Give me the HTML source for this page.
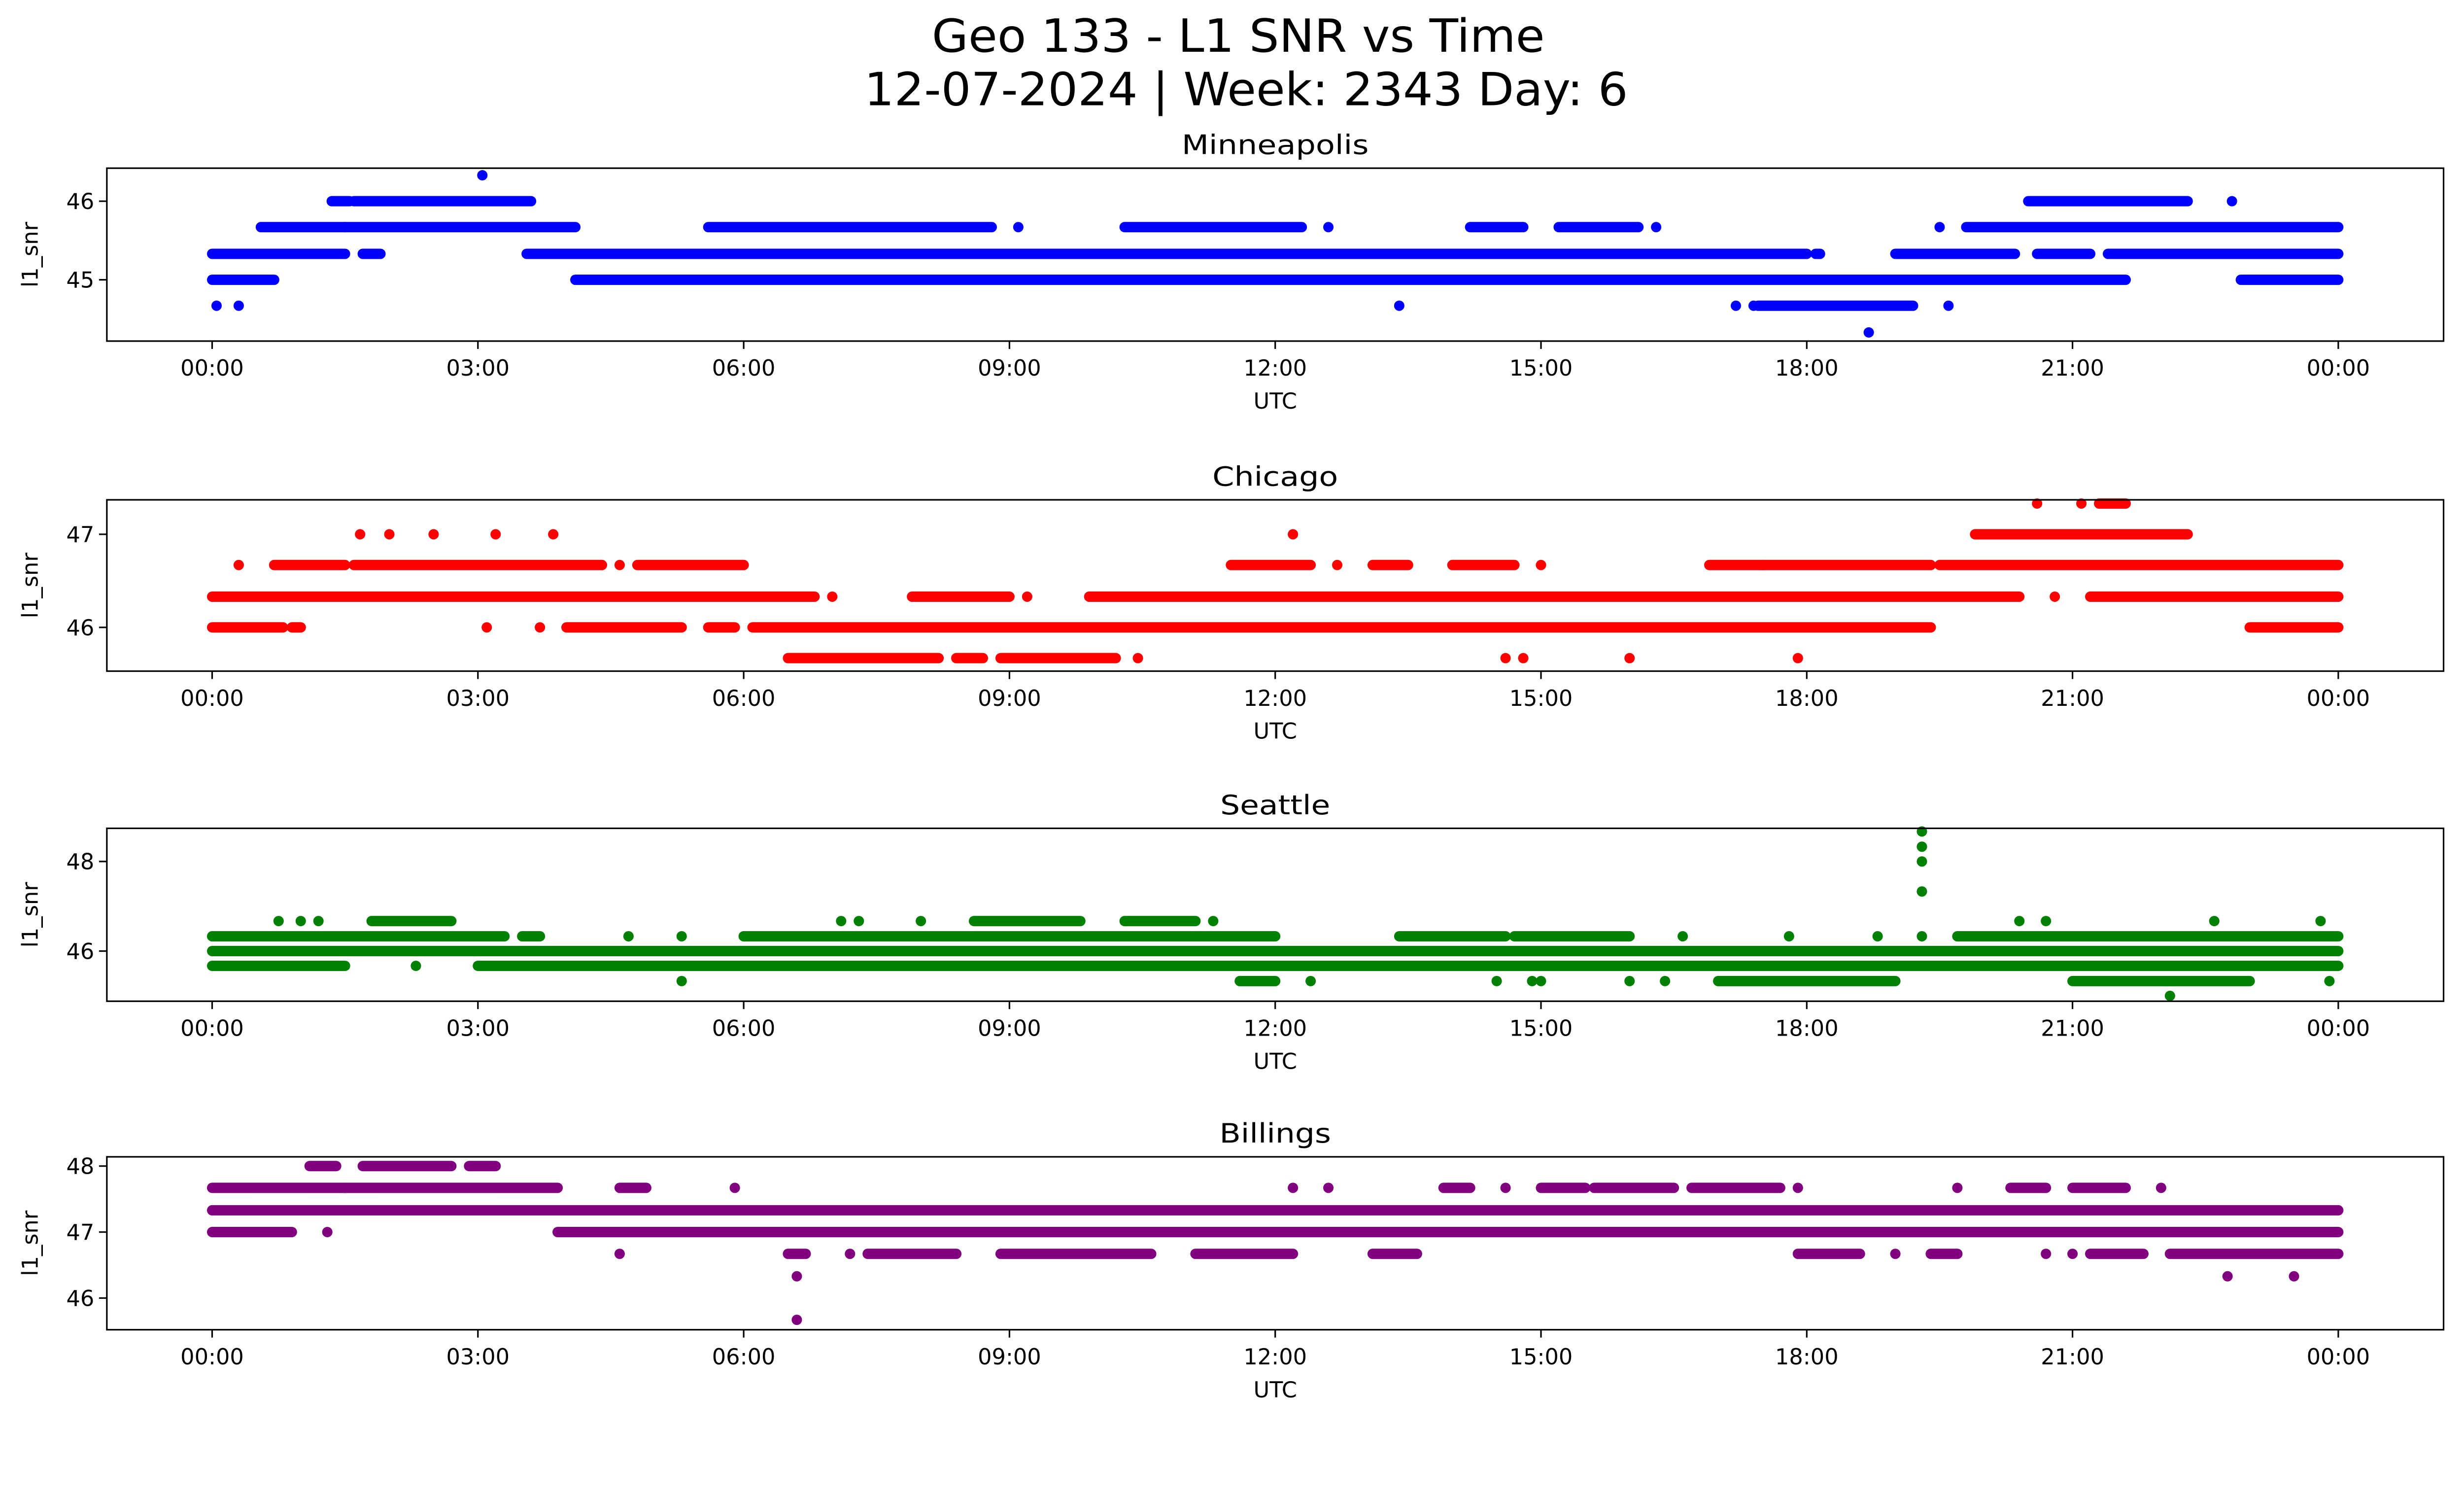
<!DOCTYPE html>
<html><head><meta charset="utf-8"><style>
html,body{margin:0;padding:0;background:#fff;overflow:hidden;width:100%;height:100%}
svg{display:block;position:fixed;left:0;top:0;width:100vw;height:100vh}
text{font-family:"DejaVu Sans","Liberation Sans",sans-serif;fill:#000}
</style></head><body>
<svg id="chart" xmlns="http://www.w3.org/2000/svg" viewBox="0 0 1568 910" preserveAspectRatio="xMinYMin meet">
<rect width="1568" height="910" fill="#fff"/>
<text x="788" y="33" font-size="29" text-anchor="middle" textLength="390" lengthAdjust="spacingAndGlyphs">Geo 133 - L1 SNR vs Time</text>
<text x="793" y="67" font-size="29" text-anchor="middle" textLength="486" lengthAdjust="spacingAndGlyphs">12-07-2024 | Week: 2343 Day: 6</text>
<g id="plots"></g>
</svg>
<script>
// Minneapolis
const minRunStart=[0,1.7,3.55,18.1,19.0,20.6,21.4,0,4.1,22.9,0.55,1.5,5.6,10.3,14.2,15.2,19.8,1.35,1.6,20.5];
const minRunEnd=[1.5,1.9,18.0,18.15,20.35,21.2,24,0.7,21.6,24,1.5,4.1,8.8,12.3,14.8,16.1,24,1.55,3.6,22.3];
const minRunVal=[45.33,45.33,45.33,45.33,45.33,45.33,45.33,45,45,45,45.67,45.67,45.67,45.67,45.67,45.67,45.67,46,46,46];
const minPtTime=[0.05,0.3,13.4,19.6,18.7,3.05,22.8,19.5,17.2,17.4,12.6,9.1,16.3];
const minPtVal=[44.67,44.67,44.67,44.67,44.33,46.33,46,45.67,44.67,44.67,45.67,45.67,45.67];
const minRun2Start=[17.45];const minRun2End=[19.2];const minRun2Val=[44.67];
// Chicago
const chiRunStart=[0,6.5,7.9,8.5,9.9,11.0,20.0,21.2,0,0.9,4.0,5.6,6.1,23.0,0.7,1.6,4.8,11.5,13.1,14.0,16.9,17.5,19.5,19.9,21.3,6.5,8.4,8.9];
const chiRunEnd=[6.6,6.8,8.5,9.0,20.3,19.9,20.4,24,0.8,1.0,5.3,5.9,19.4,24,1.5,4.4,6.0,12.4,13.5,14.7,17.5,19.4,24,22.3,21.6,8.2,8.7,10.2];
const chiRunVal=[46.33,46.33,46.33,46.33,46.33,46.33,46.33,46.33,46,46,46,46,46,46,46.67,46.67,46.67,46.67,46.67,46.67,46.67,46.67,46.67,47,47.33,45.67,45.67,45.67];
const chiPtTime=[0.3,4.6,12.7,15.0,1.67,2.0,2.5,3.2,3.85,12.2,20.6,21.1,3.1,3.7,10.45,14.6,14.8,16.0,17.9,20.8,7.0,9.2];
const chiPtVal=[46.67,46.67,46.67,46.67,47,47,47,47,47,47,47.33,47.33,46,46,45.67,45.67,45.67,45.67,45.67,46.33,46.33,46.33];
// Seattle
const seaRunStart=[0,1.6,3.5,6.0,13.4,14.7,19.7,0,0,3.0,11.6,17.0,21.0,1.8,8.6,10.3];
const seaRunEnd=[1.6,3.3,3.7,12.0,14.6,16.0,24,24,1.5,24,12.0,19.0,23.0,2.7,9.8,11.1];
const seaRunVal=[46.33,46.33,46.33,46.33,46.33,46.33,46.33,46,45.67,45.67,45.33,45.33,45.33,46.67,46.67,46.67];
const seaPtTime=[4.7,5.3,16.6,17.8,18.8,19.3,19.3,19.3,19.3,19.3,5.3,12.4,14.5,15.0,16.0,16.4,22.1,0.75,1.0,1.2,7.1,7.3,8.0,11.3,20.4,20.7,22.6,23.8,23.9,2.3,14.9];
const seaPtVal=[46.33,46.33,46.33,46.33,46.33,46.33,47.33,48,48.33,48.67,45.33,45.33,45.33,45.33,45.33,45.33,45,46.67,46.67,46.67,46.67,46.67,46.67,46.67,46.67,46.67,46.67,46.67,45.33,45.67,45.33];
// Billings
const bilRunStart=[0,0,3.9,0,1.5,4.6,13.9,15.0,15.6,16.7,20.3,21.0,1.1,1.7,2.9,6.5,7.4,8.9,11.1,13.1,17.9,19.4,21.2,22.1];
const bilRunEnd=[24,0.9,24,1.5,3.9,4.9,14.2,15.5,16.5,17.7,20.7,21.6,1.4,2.7,3.2,6.7,8.4,10.6,12.2,13.6,18.6,19.7,21.8,24];
const bilRunVal=[47.33,47,47,47.67,47.67,47.67,47.67,47.67,47.67,47.67,47.67,47.67,48,48,48,46.67,46.67,46.67,46.67,46.67,46.67,46.67,46.67,46.67];
const bilPtTime=[5.9,12.2,12.6,14.6,17.9,19.7,22.0,4.6,7.2,19.0,20.7,21.0,6.6,22.75,23.5,6.6,1.3];
const bilPtVal=[47.67,47.67,47.67,47.67,47.67,47.67,47.67,46.67,46.67,46.67,46.67,46.67,46.33,46.33,46.33,45.67,47];
// ticks
const xTickHours=[0,3,6,9,12,15,18,21,24];
const xTickLabels=["00:00","03:00","06:00","09:00","12:00","15:00","18:00","21:00","00:00"];

const panels=[
 {name:"Minneapolis",slug:"minneapolis",tw:119,top:107,bottom:217,yMin:44.22,yMax:46.42,ticks:[45,46],color:"#0000ff",
  runs:[[minRunStart,minRunEnd,minRunVal],[minRun2Start,minRun2End,minRun2Val]],pts:[minPtTime,minPtVal]},
 {name:"Chicago",slug:"chicago",tw:80,top:318,bottom:427,yMin:45.53,yMax:47.37,ticks:[46,47],color:"#ff0000",
  runs:[[chiRunStart,chiRunEnd,chiRunVal]],pts:[chiPtTime,chiPtVal]},
 {name:"Seattle",slug:"seattle",tw:70,top:527,bottom:637,yMin:44.88,yMax:48.74,ticks:[46,48],color:"#008000",
  runs:[[seaRunStart,seaRunEnd,seaRunVal]],pts:[seaPtTime,seaPtVal]},
 {name:"Billings",slug:"billings",tw:71,top:736,bottom:846,yMin:45.52,yMax:48.14,ticks:[46,47,48],color:"#800080",
  runs:[[bilRunStart,bilRunEnd,bilRunVal]],pts:[bilPtTime,bilPtVal]}
];
const NS="http://www.w3.org/2000/svg";
const L=68,R=1555,X0=135,X1=1488;
const xs=h=>X0+(X1-X0)*h/24;
const root=document.getElementById('plots');
function mk(tag,attrs,parent){const e=document.createElementNS(NS,tag);for(const k in attrs)e.setAttribute(k,attrs[k]);parent.appendChild(e);return e;}
panels.forEach(p=>{
 const ys=v=>p.bottom-(v-p.yMin)/(p.yMax-p.yMin)*(p.bottom-p.top);
 const g=mk('g',{},root);
 
 
 const t=mk('text',{x:(L+R)/2,y:p.top-9,'font-size':17,'text-anchor':'middle',textLength:p.tw,lengthAdjust:'spacingAndGlyphs'},g);
 t.textContent=p.name;
 
 
 const marks=mk('g',{fill:p.color,stroke:p.color},g);
 
 
 p.runs.forEach(([s,e,v])=>{
  for(let i=0;i<s.length;i++){
   const ln=mk('line',{x1:xs(s[i]),x2:xs(e[i]),y1:ys(v[i]),y2:ys(v[i]),'stroke-width':6.6,'stroke-linecap':'round'},marks);
   
   
  }
 });
 const [pt,pv]=p.pts;
 for(let i=0;i<pt.length;i++){
  const c=mk('circle',{cx:xs(pt[i]),cy:ys(pv[i]),r:3.3,stroke:'none'},marks);
  
  
 }
 const fr=mk('rect',{x:L,y:p.top,width:R-L,height:p.bottom-p.top,fill:'none',stroke:'#000','stroke-width':1},g);
 
 
 xTickHours.forEach((h,i)=>{
  mk('line',{x1:xs(h),x2:xs(h),y1:p.bottom,y2:p.bottom+5,stroke:'#000','stroke-width':1},g);
  const tl=mk('text',{x:xs(h),y:p.bottom+22,'font-size':14,'text-anchor':'middle'},g);
  tl.textContent=xTickLabels[i];
  
  
 });
 p.ticks.forEach(v=>{
  mk('line',{x1:L-5,x2:L,y1:ys(v),y2:ys(v),stroke:'#000','stroke-width':1},g);
  const tl=mk('text',{x:L-8,y:ys(v)+5,'font-size':14,'text-anchor':'end'},g);
  tl.textContent=String(v);
  
  
 });
 const xl=mk('text',{x:(L+R)/2,y:p.bottom+43,'font-size':14,'text-anchor':'middle'},g);
 xl.textContent='UTC';
 
 
 const cy=(p.top+p.bottom)/2;
 const yl=mk('text',{x:24,y:cy,'font-size':14,'text-anchor':'middle',transform:`rotate(-90 24 ${cy})`},g);
 yl.textContent='l1_snr';
 
 
});
</script>
</body></html>
